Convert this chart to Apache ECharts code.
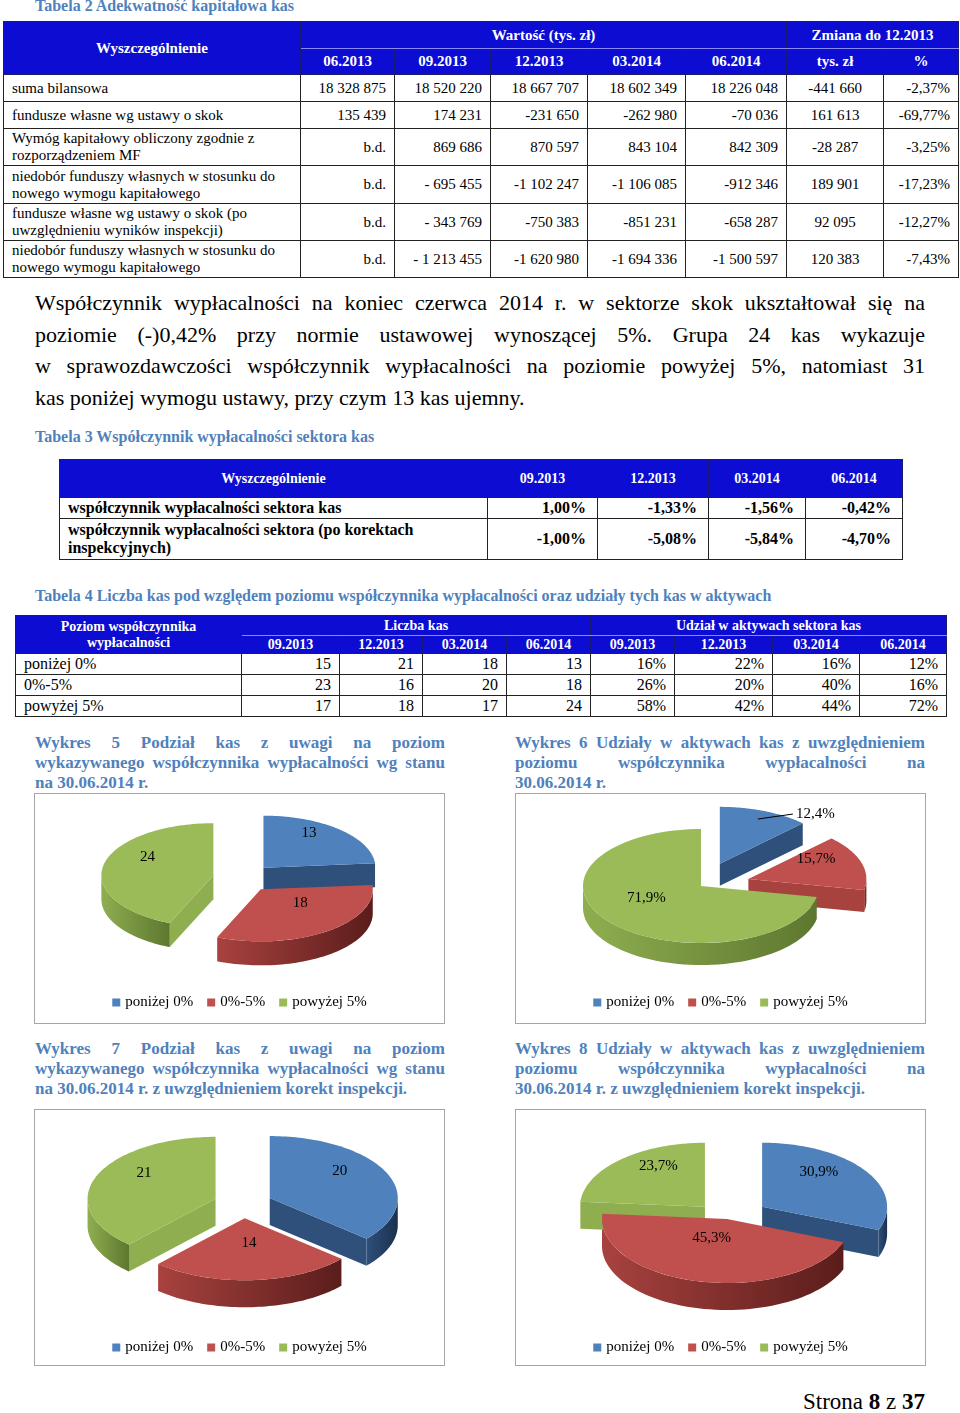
<!DOCTYPE html>
<html lang="pl">
<head>
<meta charset="utf-8">
<title>Adekwatność kapitałowa kas</title>
<script src="https://cdn.jsdelivr.net/npm/echarts@6/dist/echarts.min.js"></script>
<style>
  html, body { margin: 0; padding: 0; background: #fff; }
  body { width: 960px; height: 1413px; position: relative; overflow: hidden;
         font-family: "Liberation Serif", "Times New Roman", serif; color: #000; }
  .abs { position: absolute; }
  .cap { color: #4f81bd; font-weight: bold; font-size: 16px; line-height: 18px; white-space: nowrap; }
  .wcap { color: #4f81bd; font-weight: bold; font-size: 17px; line-height: 20px; width: 410px; }
  .jl { text-align: justify; text-align-last: justify; white-space: nowrap; }
  .ll { text-align: left; white-space: nowrap; }
  table { border-collapse: collapse; table-layout: fixed; position: absolute; }
  td { border: 1px solid #222; padding: 0 8px; overflow: hidden; white-space: nowrap; }
  td.h { background: #0c0cd2; color: #fff; font-weight: bold; text-align: center; border-color: #1a1a70; }
  td.hl { border-bottom-color: #8a8aff; }
  td.wrap { white-space: normal; }
  td.r { text-align: right; }
  td.c { text-align: center; }
  #t2 td { font-size: 15px; line-height: 17px; }
  #t3 td { font-size: 16px; line-height: 18px; font-weight: bold; }
  #t3 td.h { font-size: 14px; }
  #t4 td { font-size: 16px; line-height: 18px; }
  #t4 td.h { font-size: 14px; line-height: 16px; }
  .para { left: 35px; top: 287px; width: 890px; font-size: 22px; line-height: 31.5px; }
  .box { position: absolute; border: 1px solid #a6a6a6; box-sizing: border-box; }
</style>
</head>
<body>

<div class="abs cap" style="left:35px; top:-3px;">Tabela 2 Adekwatność kapitałowa kas</div>
<table id="t2" style="left:3px; top:21px; width:955px;"></table>

<div class="abs para">
  <div class="jl">Współczynnik wypłacalności na koniec czerwca 2014 r. w sektorze skok ukształtował się na</div>
  <div class="jl">poziomie (-)0,42% przy normie ustawowej wynoszącej 5%. Grupa 24 kas wykazuje</div>
  <div class="jl">w sprawozdawczości współczynnik wypłacalności na poziomie powyżej 5%, natomiast 31</div>
  <div class="ll">kas poniżej wymogu ustawy, przy czym 13 kas ujemny.</div>
</div>

<div class="abs cap" style="left:35px; top:428px;">Tabela 3 Współczynnik wypłacalności sektora kas</div>
<table id="t3" style="left:59px; top:459px; width:843px;"></table>

<div class="abs cap" style="left:35px; top:587px;">Tabela 4 Liczba kas pod względem poziomu współczynnika wypłacalności oraz udziały tych kas w aktywach</div>
<table id="t4" style="left:15px; top:615px; width:931px;"></table>

<div class="abs wcap" style="left:35px; top:733px;">
  <div class="jl">Wykres 5 Podział kas z uwagi na poziom</div>
  <div class="jl">wykazywanego współczynnika wypłacalności wg stanu</div>
  <div class="ll">na 30.06.2014 r.</div>
</div>
<div class="abs wcap" style="left:515px; top:733px;">
  <div class="jl">Wykres 6 Udziały w aktywach kas z uwzględnieniem</div>
  <div class="jl">poziomu współczynnika wypłacalności na</div>
  <div class="ll">30.06.2014 r.</div>
</div>
<div class="box" id="w5" style="left:34px; top:793px; width:411px; height:231px;"></div>
<div class="box" id="w6" style="left:515px; top:793px; width:411px; height:231px;"></div>

<div class="abs wcap" style="left:35px; top:1039px;">
  <div class="jl">Wykres 7 Podział kas z uwagi na poziom</div>
  <div class="jl">wykazywanego współczynnika wypłacalności wg stanu</div>
  <div class="ll">na 30.06.2014 r. z uwzględnieniem korekt inspekcji.</div>
</div>
<div class="abs wcap" style="left:515px; top:1039px;">
  <div class="jl">Wykres 8 Udziały w aktywach kas z uwzględnieniem</div>
  <div class="jl">poziomu współczynnika wypłacalności na</div>
  <div class="ll">30.06.2014 r. z uwzględnieniem korekt inspekcji.</div>
</div>
<div class="box" id="w7" style="left:34px; top:1109px; width:411px; height:257px;"></div>
<div class="box" id="w8" style="left:515px; top:1109px; width:411px; height:257px;"></div>

<div class="abs" style="right:35px; top:1389px; font-size:23px; line-height:26px;">Strona <b>8</b> z <b>37</b></div>

<script>
// ---- Tabela 2 ----
var t2Periods = ['06.2013', '09.2013', '12.2013', '03.2014', '06.2014'];
var t2Rows = [
  'suma bilansowa',
  'fundusze własne wg ustawy o skok',
  'Wymóg kapitałowy obliczony zgodnie z rozporządzeniem MF',
  'niedobór funduszy własnych w stosunku do nowego wymogu kapitałowego',
  'fundusze własne wg ustawy o skok (po uwzględnieniu wyników inspekcji)',
  'niedobór funduszy własnych w stosunku do nowego wymogu kapitałowego'
];
var t2Values = [
  ['18 328 875', '18 520 220', '18 667 707', '18 602 349', '18 226 048'],
  ['135 439', '174 231', '-231 650', '-262 980', '-70 036'],
  ['b.d.', '869 686', '870 597', '843 104', '842 309'],
  ['b.d.', '- 695 455', '-1 102 247', '-1 106 085', '-912 346'],
  ['b.d.', '- 343 769', '-750 383', '-851 231', '-658 287'],
  ['b.d.', '- 1 213 455', '-1 620 980', '-1 694 336', '-1 500 597']
];
var t2ChangeAbs = ['-441 660', '161 613', '-28 287', '189 901', '92 095', '120 383'];
var t2ChangePct = ['-2,37%', '-69,77%', '-3,25%', '-17,23%', '-12,27%', '-7,43%'];

// ---- Tabela 3 ----
var t3Periods = ['09.2013', '12.2013', '03.2014', '06.2014'];
var t3Rows = ['współczynnik wypłacalności sektora kas',
              'współczynnik wypłacalności sektora (po korektach inspekcyjnych)'];
var t3Values = [['1,00%', '-1,33%', '-1,56%', '-0,42%'],
                ['-1,00%', '-5,08%', '-5,84%', '-4,70%']];

// ---- Tabela 4 ----
var levels = ['poniżej 0%', '0%-5%', 'powyżej 5%'];
var t4Periods = ['09.2013', '12.2013', '03.2014', '06.2014'];
var t4Counts = [[15, 21, 18, 13], [23, 16, 20, 18], [17, 18, 17, 24]];
var t4Shares = [['16%', '22%', '16%', '12%'], ['26%', '20%', '40%', '16%'], ['58%', '42%', '44%', '72%']];

// ---- Wykresy 5-8 ----
var w5Values = [13, 18, 24];
var w6Values = [12.4, 15.7, 71.9];
var w7Values = [20, 14, 21];
var w8Values = [30.9, 45.3, 23.7];

function cols(widths) {
  return '<colgroup>' + widths.map(function (w) { return '<col style="width:' + w + 'px">'; }).join('') + '</colgroup>';
}

// Tabela 2
(function () {
  var h = [27, 26, 27, 27, 37, 38, 37, 37];
  var html = cols([297, 94, 96, 97, 98, 101, 97, 75]);
  html += '<tr style="height:' + h[0] + 'px"><td class="h" rowspan="2">Wyszczególnienie</td>' +
          '<td class="h hl" colspan="5">Wartość (tys. zł)</td><td class="h hl" colspan="2">Zmiana do 12.2013</td></tr>';
  html += '<tr style="height:' + h[1] + 'px">' + t2Periods.map(function (p) { return '<td class="h">' + p + '</td>'; }).join('') +
          '<td class="h">tys. zł</td><td class="h">%</td></tr>';
  t2Rows.forEach(function (name, i) {
    html += '<tr style="height:' + h[i + 2] + 'px"><td class="wrap" style="padding-left:8px">' + name + '</td>' +
      t2Values[i].map(function (v) { return '<td class="r">' + v + '</td>'; }).join('') +
      '<td class="c">' + t2ChangeAbs[i] + '</td><td class="r">' + t2ChangePct[i] + '</td></tr>';
  });
  document.getElementById('t2').innerHTML = html;
})();

// Tabela 3
(function () {
  var html = cols([428, 110, 111, 97, 97]);
  html += '<tr style="height:38px"><td class="h">Wyszczególnienie</td>' +
          t3Periods.map(function (p) { return '<td class="h">' + p + '</td>'; }).join('') + '</tr>';
  var h = [21, 41];
  t3Rows.forEach(function (name, i) {
    html += '<tr style="height:' + h[i] + 'px"><td class="wrap">' + name + '</td>' +
      t3Values[i].map(function (v) { return '<td class="r" style="padding-right:11px">' + v + '</td>'; }).join('') + '</tr>';
  });
  document.getElementById('t3').innerHTML = html;
})();

// Tabela 4
(function () {
  var html = cols([226, 98, 83, 84, 84, 84, 98, 87, 87]);
  html += '<tr style="height:20px"><td class="h wrap" rowspan="2">Poziom współczynnika wypłacalności</td>' +
          '<td class="h hl" colspan="4">Liczba kas</td><td class="h hl" colspan="4">Udział w aktywach sektora kas</td></tr>';
  html += '<tr style="height:18px">' + t4Periods.concat(t4Periods).map(function (p) { return '<td class="h">' + p + '</td>'; }).join('') + '</tr>';
  levels.forEach(function (name, i) {
    html += '<tr style="height:21px"><td>' + name + '</td>' +
      t4Counts[i].map(function (v) { return '<td class="r">' + v + '</td>'; }).join('') +
      t4Shares[i].map(function (v) { return '<td class="r">' + v + '</td>'; }).join('') + '</tr>';
  });
  document.getElementById('t4').innerHTML = html;
})();

// kolory Excela: góra wycinka, boczna ściana (jasna -> ciemna)
var topColors = ['#4f81bd', '#c0504d', '#9bbb59'];
var wallColors = [['#2e507a', '#1b3050'], ['#a8423f', '#5a1d1b'], ['#8fae50', '#5e772f']];

function fmtCount(v) { return String(v); }
function fmtShare(v) { return v.toFixed(1).replace('.', ',') + '%'; }

// wykres kołowy 3D: seria custom na ukrytych osiach (-1..1), elipsa = obszar grid
function pie3d(id, values, fmt, cfg) {
  var chart = echarts.init(document.getElementById(id));
  var total = values.reduce(function (a, b) { return a + b; }, 0);
  var starts = [];
  values.reduce(function (acc, v) { starts.push(acc); return acc + v; }, 0);

  function geom(api, i) {
    var a0 = api.value(0) / total * Math.PI * 2;
    var a1 = (api.value(0) + api.value(1)) / total * Math.PI * 2;
    var mid = (a0 + a1) / 2;
    var e = cfg.explode[i];
    var off = [e * Math.sin(mid), e * Math.cos(mid)];
    var pt = function (th, r) {
      return api.coord([off[0] + r * Math.sin(th), off[1] + r * Math.cos(th)]);
    };
    return { a0: a0, a1: a1, mid: mid, off: off, pt: pt };
  }

  function wallItem(i) {
    return function (params, api) {
      var g = geom(api, i), d = cfg.depth, children = [];
      var c = api.coord(g.off);
      [[g.a0, g.a0 - Math.PI / 2], [g.a1, g.a1 + Math.PI / 2]].forEach(function (ed) {
        if (Math.cos(ed[1]) < -1e-6) {
          var r = g.pt(ed[0], 1);
          children.push({ type: 'polygon',
            shape: { points: [c, r, [r[0], r[1] + d], [c[0], c[1] + d]] },
            style: { fill: wallColors[i][0] } });
        }
      });
      var lo = Math.max(g.a0, Math.PI / 2), hi = Math.min(g.a1, Math.PI * 1.5);
      if (hi > lo) {
        var topPts = [], botPts = [], n = 60;
        for (var k = 0; k <= n; k++) {
          var p = g.pt(lo + (hi - lo) * k / n, 1);
          topPts.push(p);
          botPts.unshift([p[0], p[1] + d]);
        }
        children.push({ type: 'polygon', shape: { points: topPts.concat(botPts) },
          style: { fill: new echarts.graphic.LinearGradient(0, 0, 1, 0, [
            { offset: 0, color: wallColors[i][0] }, { offset: 1, color: wallColors[i][1] }]) } });
      }
      return { type: 'group', children: children };
    };
  }

  function topItem(i) {
    return function (params, api) {
      var g = geom(api, i), n = 90, pts = [api.coord(g.off)];
      for (var k = 0; k <= n; k++) pts.push(g.pt(g.a0 + (g.a1 - g.a0) * k / n, 1));
      var children = [{ type: 'polygon', shape: { points: pts }, style: { fill: topColors[i] } }];
      var txt = fmt(api.value(1));
      var font = '15px "Liberation Serif"';
      if (cfg.outside[i]) {
        var a = g.pt(g.mid, 0.85);
        var b = [a[0] + 35, a[1] - 5];
        children.push({ type: 'polyline', shape: { points: [a, b] }, style: { stroke: '#000', lineWidth: 1, fill: null } });
        children.push({ type: 'text', x: b[0] + 3, y: b[1],
          style: { text: txt, fill: '#000', font: font, align: 'left', verticalAlign: 'middle' } });
      } else {
        var lp = g.pt(g.mid, cfg.lf);
        children.push({ type: 'text', x: lp[0], y: lp[1] + cfg.ldy,
          style: { text: txt, fill: '#000', font: font, align: 'center', verticalAlign: 'middle' } });
      }
      return { type: 'group', children: children };
    };
  }

  var series = [];
  values.forEach(function (v, i) {
    series.push({ type: 'custom', z: 2, silent: true, renderItem: wallItem(i),
                  data: [[starts[i], v]], encode: { x: 0, y: 1 } });
  });
  values.forEach(function (v, i) {
    series.push({ type: 'custom', name: levels[i], z: 3, silent: true, renderItem: topItem(i),
                  itemStyle: { color: topColors[i] },
                  data: [[starts[i], v]], encode: { x: 0, y: 1 } });
  });

  chart.setOption({
    animation: false,
    grid: cfg.grid,
    xAxis: { type: 'value', min: -1, max: 1, show: false },
    yAxis: { type: 'value', min: -1, max: 1, show: false },
    legend: {
      data: levels, top: cfg.legendTop, left: 'center', icon: 'rect',
      itemWidth: 8, itemHeight: 8, itemGap: 14, selectedMode: false,
      textStyle: { fontFamily: 'Liberation Serif', fontSize: 15, color: '#000' }
    },
    series: series
  });
}

pie3d('w5', w5Values, fmtCount, {
  grid: { left: 96, top: 32, width: 224, height: 104 }, depth: 24,
  explode: [0.27, 0.27, 0.27], lf: 0.6, ldy: -12, legendTop: 196, outside: [false, false, false]
});
pie3d('w6', w6Values, fmtShare, {
  grid: { left: 67, top: 35, width: 236, height: 114 }, depth: 22,
  explode: [0.42, 0.42, 0], lf: 0.6, ldy: -10, legendTop: 196, outside: [true, false, false]
});
pie3d('w7', w7Values, fmtCount, {
  grid: { left: 80, top: 32, width: 256, height: 124 }, depth: 27,
  explode: [0.23, 0.23, 0.23], lf: 0.6, ldy: -12, legendTop: 225, outside: [false, false, false]
});
pie3d('w8', w8Values, fmtShare, {
  grid: { left: 86, top: 45, width: 250, height: 128 }, depth: 27,
  explode: [0.34, 0, 0.26], lf: 0.55, ldy: -15, legendTop: 225, outside: [false, false, false]
});
</script>
</body>
</html>
